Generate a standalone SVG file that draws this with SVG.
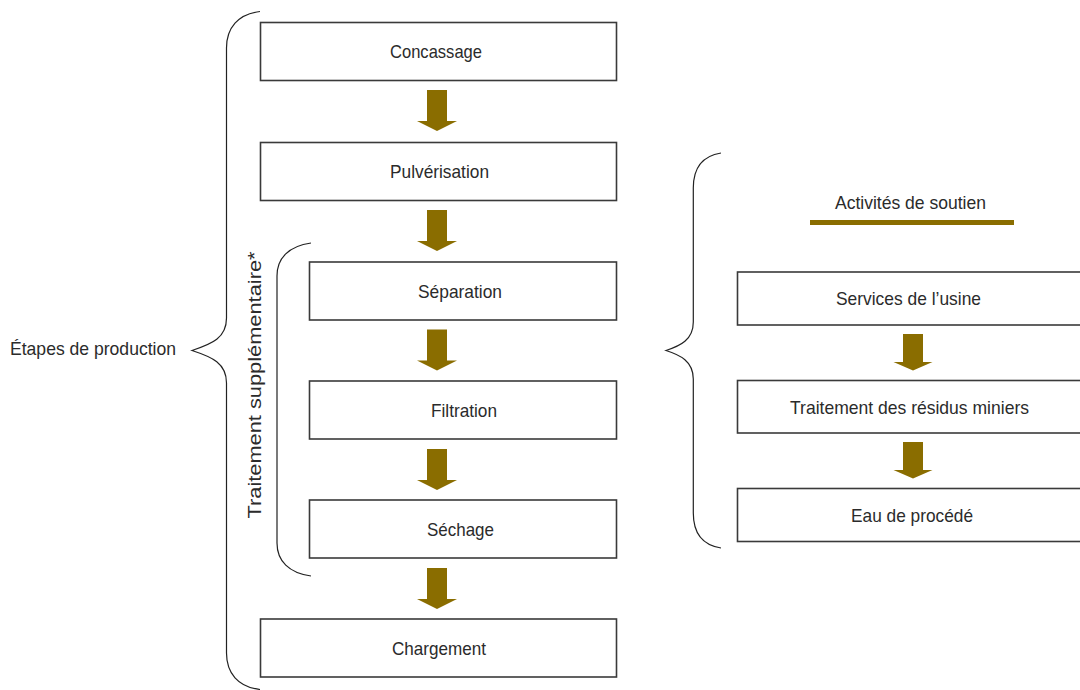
<svg xmlns="http://www.w3.org/2000/svg" width="1080" height="690" viewBox="0 0 1080 690">
  <style>
    .box { fill: #ffffff; stroke: #3a3a3a; stroke-width: 1.6; }
    .lbl { font-family: "Liberation Sans", Arial, sans-serif; font-size: 19px; fill: #2b2b2b; text-anchor: middle; }
    .brace { fill: none; stroke: #222222; stroke-width: 1.2; }
    .arrow { fill: #8a6d00; }
  </style>
  <defs>
    <path id="arrL" d="M-10,0 H10 V31 H20 L0,41 L-20,31 H-10 Z"/>
    <path id="arrR" d="M-10,0 H10 V28 H19.5 L0,36.5 L-19.5,28 H-10 Z"/>
  </defs>
  <rect width="1080" height="690" fill="#ffffff"/>

  <g id="braces">
    <path class="brace" d="M260,11.5 C238,14 226.5,28 226.5,48 L226.5,318 C226.5,338 212,344 192,350.5 C212,357 226.5,363 226.5,383 L226.5,653 C226.5,673 238,687 260,689.5"/>
    <path class="brace" d="M311,243 C289,246 277,258 277,276 L277,543 C277,561 289,573 311,576"/>
    <path class="brace" d="M721,153 C702,156 693.3,168 693.3,188 L693.3,322 C693.3,340 680,346 666,350.5 C680,355 693.3,361 693.3,379 L693.3,513 C693.3,533 702,545 721,548"/>
  </g>

  <g id="connectors">
    <use href="#arrL" class="arrow" transform="translate(437,90)"/>
    <use href="#arrL" class="arrow" transform="translate(437,210)"/>
    <use href="#arrL" class="arrow" transform="translate(437,329.5)"/>
    <use href="#arrL" class="arrow" transform="translate(437,449)"/>
    <use href="#arrL" class="arrow" transform="translate(437,568)"/>
    <use href="#arrR" class="arrow" transform="translate(913,334)"/>
    <use href="#arrR" class="arrow" transform="translate(913,442)"/>
  </g>

  <g id="label-etapes">
    <text class="lbl" x="10" y="355" style="text-anchor:start" textLength="166" lengthAdjust="spacingAndGlyphs">Étapes de production</text>
  </g>
  <g id="label-traitement-supp">
    <text transform="translate(261,385) rotate(-90)" style="font-family:'Liberation Sans', Arial, sans-serif; font-size:19px; fill:#2b2b2b; text-anchor:middle" textLength="267" lengthAdjust="spacingAndGlyphs">Traitement supplémentaire*</text>
  </g>
  <g id="label-activites">
    <text class="lbl" x="910.5" y="209" textLength="151" lengthAdjust="spacingAndGlyphs">Activités de soutien</text>
    <rect x="810" y="220" width="204" height="5" class="arrow"/>
  </g>

  <g id="node-concassage">
    <rect class="box" x="260.5" y="22.5" width="356" height="58"/>
    <text class="lbl" x="436" y="57.5" textLength="92" lengthAdjust="spacingAndGlyphs">Concassage</text>
  </g>
  <g id="node-pulverisation">
    <rect class="box" x="260.5" y="142.5" width="356" height="58"/>
    <text class="lbl" x="439.5" y="177.5" textLength="99" lengthAdjust="spacingAndGlyphs">Pulvérisation</text>
  </g>
  <g id="node-separation">
    <rect class="box" x="309.5" y="262" width="307" height="58"/>
    <text class="lbl" x="460" y="297.5" textLength="84" lengthAdjust="spacingAndGlyphs">Séparation</text>
  </g>
  <g id="node-filtration">
    <rect class="box" x="309.5" y="381" width="307" height="58"/>
    <text class="lbl" x="464" y="416.5" textLength="66" lengthAdjust="spacingAndGlyphs">Filtration</text>
  </g>
  <g id="node-sechage">
    <rect class="box" x="309.5" y="500" width="307" height="58"/>
    <text class="lbl" x="460.5" y="535.5" textLength="67" lengthAdjust="spacingAndGlyphs">Séchage</text>
  </g>
  <g id="node-chargement">
    <rect class="box" x="260.5" y="619" width="356" height="58"/>
    <text class="lbl" x="439" y="654.5" textLength="94" lengthAdjust="spacingAndGlyphs">Chargement</text>
  </g>
  <g id="node-services">
    <rect class="box" x="737.5" y="272" width="347" height="53"/>
    <text class="lbl" x="908.5" y="305" textLength="145" lengthAdjust="spacingAndGlyphs">Services de l’usine</text>
  </g>
  <g id="node-residus">
    <rect class="box" x="737.5" y="380.5" width="347" height="52.5"/>
    <text class="lbl" x="909.5" y="413.5" textLength="239" lengthAdjust="spacingAndGlyphs">Traitement des résidus miniers</text>
  </g>
  <g id="node-eau">
    <rect class="box" x="737.5" y="488.5" width="347" height="53"/>
    <text class="lbl" x="912" y="521.5" textLength="122" lengthAdjust="spacingAndGlyphs">Eau de procédé</text>
  </g>
</svg>
